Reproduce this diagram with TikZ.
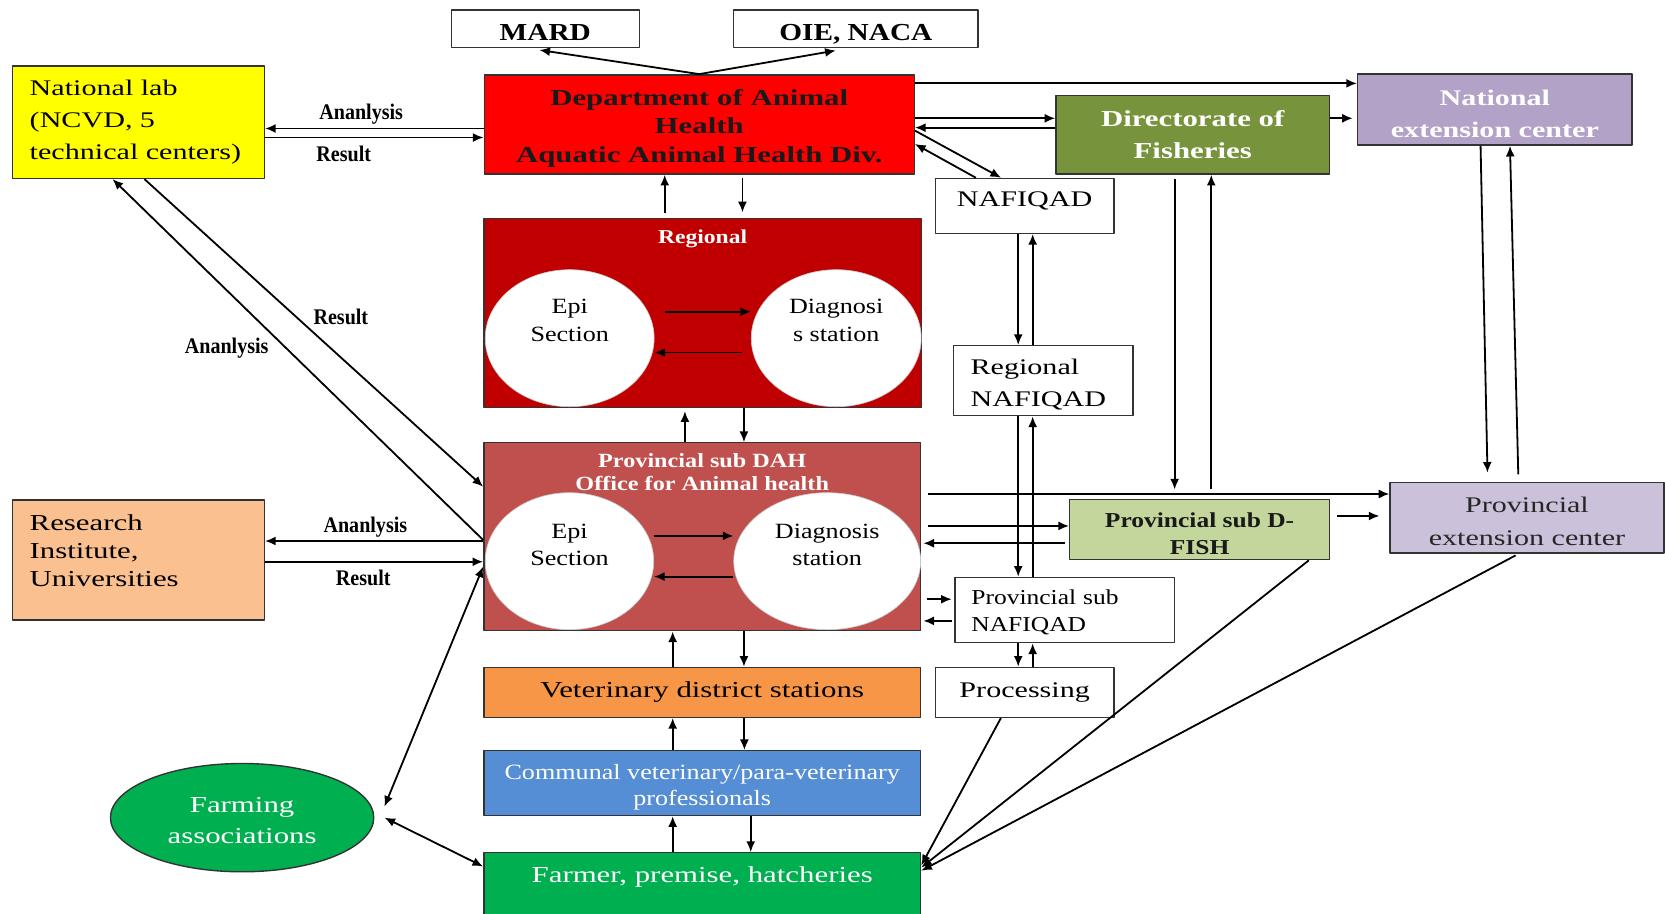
\documentclass[tikz,border=0pt]{standalone}
\usepackage{fontspec}
\setmainfont[FakeStretch=1.2]{Liberation Serif}
\newfontfamily\widefont[FakeStretch=1.35]{Liberation Serif}
\newfontfamily\lblfont[FakeStretch=0.9]{Liberation Serif}
\usetikzlibrary{arrows.meta,shapes.geometric}
\newcommand{\fsz}[2]{\fontsize{#1}{#2}\selectfont}
\newcommand{\tstrut}[1]{\rule{0pt}{#1pt}}
\definecolor{dahred}{HTML}{FF0000}
\definecolor{regred}{HTML}{C00000}
\definecolor{provred}{HTML}{C0504D}
\definecolor{labyellow}{HTML}{FFFF00}
\definecolor{respeach}{HTML}{FAC090}
\definecolor{fishgreen}{HTML}{77933C}
\definecolor{natpurple}{HTML}{B3A2C7}
\definecolor{dfishgreen}{HTML}{C3D69B}
\definecolor{provpurple}{HTML}{CCC1DA}
\definecolor{vetorange}{HTML}{F79646}
\definecolor{commblue}{HTML}{558ED5}
\definecolor{farmgreen}{HTML}{00B050}
\begin{document}
\begin{tikzpicture}[x=1pt,y=-1pt,line join=round,>={Latex[length=10pt,width=8.5pt]},line width=1.7pt]
  \tikzset{box/.style={draw=black!80,line width=1.3pt,inner sep=0pt,align=center},
    white box/.style={box,fill=white},
    circ/.style={ellipse,fill=white,draw=black!20,line width=0.6pt,inner sep=0pt,align=center,font=\fsz{20.5}{26}},
    lbl/.style={font=\lblfont\bfseries\fsz{21}{23},inner sep=2pt}}
  \useasboundingbox (0,0) rectangle (1568,860);
  % national level
  \node[white box,minimum width=177pt,minimum height=35.5pt,text height=21pt,text depth=0pt,font=\bfseries\fsz{23}{26}] (mard) at (513.5,27.2) {MARD};
  \node[white box,minimum width=230pt,minimum height=35.5pt,text height=21pt,text depth=0pt,font=\bfseries\fsz{23}{26}] (oie) at (806,27.2) {OIE, NACA};
  \node[box,fill=labyellow,minimum width=237pt,minimum height=106pt,text width=205pt,align=left,font=\widefont\fsz{21}{30}] (natlab) at (130.5,115) {National lab\\(NCVD, 5\\technical centers)};
  \node[box,fill=dahred,text=black!90,minimum width=405pt,minimum height=93.5pt,font=\widefont\bfseries\fsz{21.5}{26.7}] (dah) at (658.5,117.2) {\tstrut{22}Department of Animal\\Health\\Aquatic Animal Health Div.};
  \node[box,fill=fishgreen,text=white,minimum width=257.5pt,minimum height=74pt,font=\widefont\bfseries\fsz{21.5}{30}] (dof) at (1123.2,127) {Directorate of\\Fisheries};
  \node[box,fill=natpurple,text=white,minimum width=258.5pt,minimum height=67pt,font=\widefont\bfseries\fsz{21}{30}] (natext) at (1407.8,103.2) {\tstrut{22.5}National\\extension center};
  \node[white box,minimum width=168pt,minimum height=51.7pt,text height=14pt,text depth=12pt,font=\widefont\fsz{21}{26}] (nafiqad) at (965,193.9) {NAFIQAD};
  % regional level
  \node[box,fill=regred,minimum width=412pt,minimum height=178pt,label={[text=white,font=\bfseries\fsz{18.5}{22},anchor=north,inner sep=11pt]north:Regional}] (reg) at (661.7,294.6) {};
  \node[circ,minimum width=159pt,minimum height=129pt] (repi) at (536.5,318.5) {Epi\\Section\\[8pt]\mbox{}};
  \node[circ,minimum width=160pt,minimum height=129pt] (rdiag) at (787.5,318.5) {Diagnosi\\s station\\[8pt]\mbox{}};
  \node[white box,minimum width=169pt,minimum height=66pt,text width=137pt,align=left,font=\widefont\fsz{21}{30}] (regnaf) at (982.5,358.5) {\tstrut{22.5}Regional\\NAFIQAD};
  % provincial level
  \node[box,fill=provred,minimum width=411.3pt,minimum height=177pt,label={[text=white,font=\bfseries\fsz{19}{21.5},anchor=north,inner sep=10pt,align=center]north:{Provincial sub DAH\\Office for Animal health}}] (pdah) at (661.3,505.5) {};
  \node[circ,minimum width=158.6pt,minimum height=129pt] (pepi) at (536.3,528.5) {Epi\\Section\\[5pt]\mbox{}};
  \node[circ,minimum width=176pt,minimum height=129pt] (pdiag) at (779,528.5) {Diagnosis\\station\\[5pt]\mbox{}};
  \node[box,fill=dfishgreen,text=black!90,minimum width=244.6pt,minimum height=56.4pt,font=\bfseries\fsz{20}{25}] (dfish) at (1129.7,498.8) {\tstrut{21.8}Provincial sub D-\\FISH};
  \node[box,fill=provpurple,text=black!85,minimum width=258pt,minimum height=66.5pt,font=\widefont\fsz{21}{31}] (pext) at (1438,487.7) {\tstrut{21.5}Provincial\\extension center};
  \node[white box,minimum width=206.8pt,minimum height=61.5pt,text width=176pt,align=left,font=\fsz{20}{25}] (pnaf) at (1002.8,574.5) {\tstrut{18.7}Provincial sub\\NAFIQAD};
  \node[white box,minimum width=168pt,minimum height=47pt,font=\widefont\fsz{21}{26}] (proc) at (965,652) {Processing};
  \node[box,fill=respeach,minimum width=237pt,minimum height=113pt,text width=205pt,align=left,font=\widefont\fsz{21.5}{26.5}] (res) at (130.5,527.5) {Research\\Institute,\\Universities\\[-8pt]\mbox{}};
  % district, commune, farm
  \node[box,fill=vetorange,minimum width=411.3pt,minimum height=47pt,font=\widefont\fsz{21.5}{26}] (vet) at (661.3,652) {Veterinary district stations};
  \node[box,fill=commblue,text=white,minimum width=411.3pt,minimum height=61pt,font=\fsz{20.5}{25}] (comm) at (661.3,737.5) {\tstrut{22}Communal veterinary/para-veterinary\\professionals};
  \node[box,fill=farmgreen,text=white,minimum width=411.3pt,minimum height=63pt,text depth=22.6pt,font=\widefont\fsz{21.5}{26}] (farmer) at (661.3,834.5) {Farmer, premise, hatcheries};
  \node[ellipse,draw=black!80,line width=1.3pt,fill=farmgreen,text=white,minimum width=248pt,minimum height=102pt,inner sep=0pt,align=center,font=\widefont\fsz{21.5}{29}] (farm) at (228,770) {\tstrut{20.2}Farming\\associations};
  % connectors, top
  \draw[->] (dah.north) -- ([xshift=-5.5pt,yshift=-1.5pt]mard.south);
  \draw[->] (dah.north) -- ([xshift=-19pt,yshift=-2pt]oie.south);
  \draw[->] (dah.west |- 0,121) -- node[lbl,above,inner sep=3pt,pos=0.56] (lana1) {Ananlysis} (natlab.east |- 0,121);
  \draw[->] (natlab.east |- 0,129.5) -- node[lbl,below,inner sep=7pt,pos=0.36] (lres1) {Result} (dah.west |- 0,129.5);
  \draw[->] (dah.east |- 0,78.5) -- (natext.west |- 0,78.5);
  \draw[->] (dah.east |- 0,111.4) -- (dof.west |- 0,111.4);
  \draw[->] (dof.west |- 0,120.2) -- (dah.east |- 0,120.2);
  \draw[->,shorten >=4pt] (dof.east |- 0,111.4) -- (natext.west |- 0,111.4);
  \draw[->] (dah.east |- 0,123) -- (nafiqad.north -| 942.7,0);
  \draw[->] (nafiqad.north -| 919,0) -- (dah.east |- 0,135.6);
  \draw[->,shorten <=4pt] (reg.north -| 626,0) -- (dah.south -| 626,0);
  \draw[->,shorten <=3pt,shorten >=5pt] (dah.south -| 699.2,0) -- (reg.north -| 699.2,0);
  % inside the regional and provincial boxes
  \draw[->,shorten <=10pt] (repi.east |- 0,293.5) -- (rdiag.west |- 0,293.5);
  \draw[->,shorten <=8pt] (rdiag.west |- 0,332) -- (repi.east |- 0,332);
  \draw[->,shorten >=3pt] (pdah.north -| 645,0) -- (reg.south -| 645,0);
  \draw[->] (reg.south -| 700.6,0) -- (pdah.north -| 700.6,0);
  \draw[->] (pepi.east |- 0,504.7) -- (pdiag.west |- 0,504.7);
  \draw[->] (pdiag.west |- 0,543) -- (pepi.east |- 0,543);
  % national lab and research
  \draw[->] (natlab.south -| 136,0) -- (pdah.west |- 0,458.3);
  \draw[->] (pdah.west |- 0,508.5) -- (natlab.south -| 106,0);
  \node[lbl] (lres2) at (321,298) {Result};
  \node[lbl] (lana2) at (213.5,328) {Ananlysis};
  \draw[->] (pdah.west |- 0,509.5) -- node[lbl,above,inner sep=3pt,pos=0.54] (lana3) {Ananlysis} (res.east |- 0,509.5);
  \draw[->] (res.east |- 0,529) -- node[lbl,below,inner sep=7pt,pos=0.45] (lres3) {Result} (pdah.west |- 0,529);
  % down the chain
  \draw[->] (vet.north -| 633.5,0) -- (pdah.south -| 633.5,0);
  \draw[->] (pdah.south -| 700.6,0) -- (vet.north -| 700.6,0);
  \draw[->] (comm.north -| 633.5,0) -- (vet.south -| 633.5,0);
  \draw[->] (vet.south -| 701,0) -- (comm.north -| 701,0);
  \draw[->] (farmer.north -| 633.5,0) -- (comm.south -| 633.5,0);
  \draw[->] (comm.south -| 707,0) -- (farmer.north -| 707,0);
  \draw[<->] ([xshift=9.4pt,yshift=10.4pt]farm.east) -- (pdah.west |- 0,533.6);
  \draw[<->] ([xshift=9.4pt]farm.east) -- (farmer.west |- 0,816);
  % NAFIQAD chain
  \draw[->] (nafiqad.south -| 958.9,0) -- (regnaf.north -| 958.9,0);
  \draw[->] (regnaf.north -| 972.5,0) -- (nafiqad.south -| 972.5,0);
  \draw[->] (regnaf.south -| 958.9,0) -- (pnaf.north -| 958.9,0);
  \draw[->] (pnaf.north -| 972.5,0) -- (regnaf.south -| 972.5,0);
  \draw[->] (pnaf.south -| 958.9,0) -- (proc.north -| 958.9,0);
  \draw[->] (proc.north -| 972.5,0) -- (pnaf.south -| 972.5,0);
  \draw[->,shorten <=5pt,shorten >=2.5pt] (pdah.east |- 0,564.3) -- (pnaf.west |- 0,564.3);
  \draw[->,shorten <=2.5pt,shorten >=2pt] (pnaf.west |- 0,584.7) -- (pdah.east |- 0,584.7);
  % fisheries and extension
  \draw[->,shorten <=4pt,shorten >=9pt] (dof.south -| 1106.2,0) -- (dfish.north -| 1106.2,0);
  \draw[->,shorten <=9pt] (dfish.north -| 1140.7,0) -- (dof.south -| 1140.7,0);
  \draw[->,shorten >=8.7pt] (natext.south -| 1394.3,0) -- (pext.north -| 1401,0);
  \draw[->,shorten <=7pt] (pext.north -| 1430,0) -- (natext.south -| 1422,0);
  \draw[->,shorten <=6pt] (pdah.east |- 0,465.2) -- (pext.west |- 0,465.2);
  \draw[->,shorten <=6pt] (pdah.east |- 0,495.3) -- (dfish.west |- 0,495.3);
  \draw[->,shorten <=4pt,shorten >=2pt] (dfish.west |- 0,511.6) -- (pdah.east |- 0,511.6);
  \draw[->,shorten <=6.7pt,shorten >=9.3pt] (dfish.east |- 0,485.9) -- (pext.west |- 0,485.9);
  % to the farmers
  \draw[->] (proc.south -| 942.6,0) -- (farmer.east |- 0,815);
  \draw[->] (dfish.south -| 1232.6,0) -- (farmer.east |- 0,817);
  \draw[->,shorten <=3pt] (pext.south -| 1430,0) -- (farmer.east |- 0,820);
\end{tikzpicture}
\end{document}
